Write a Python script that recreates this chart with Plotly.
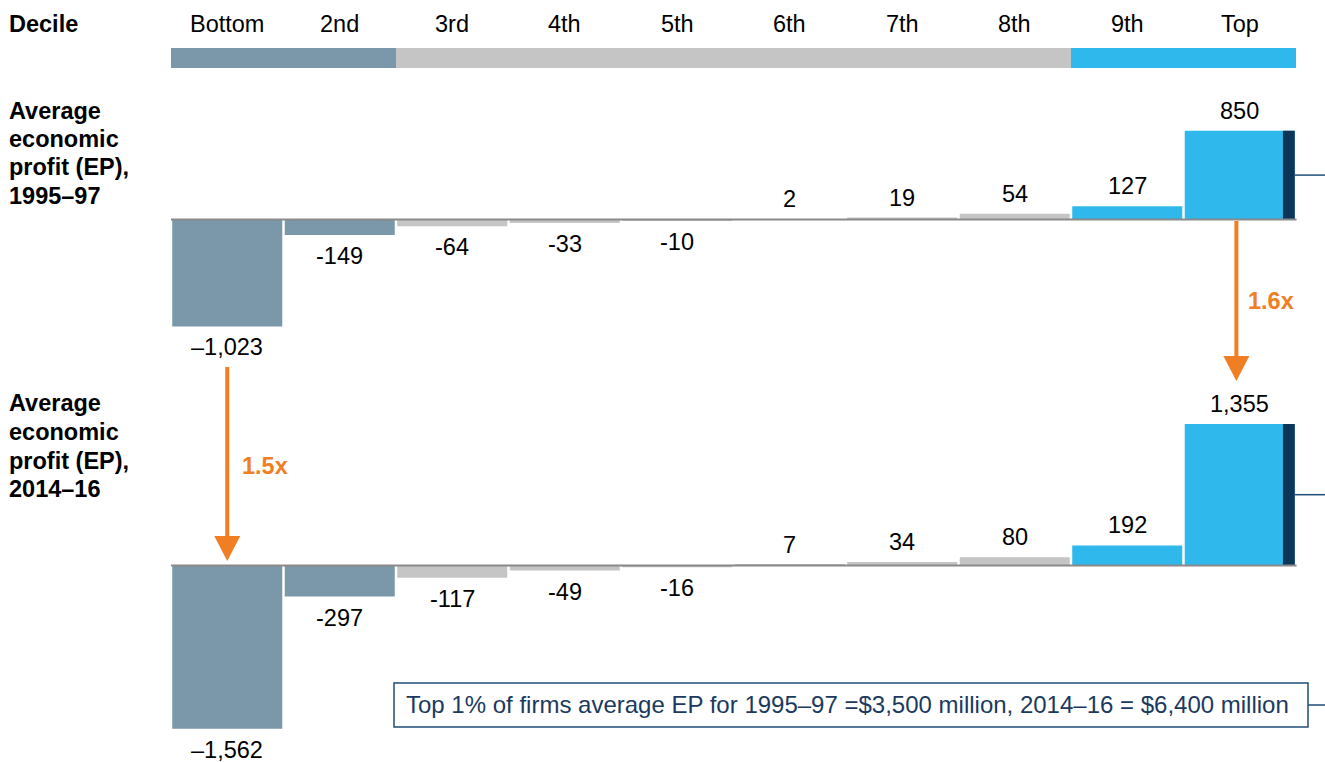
import plotly.graph_objects as go

# ---------------- data ----------------
deciles = ["Bottom", "2nd", "3rd", "4th", "5th", "6th", "7th", "8th", "9th", "Top"]
groups = ["low", "low", "mid", "mid", "mid", "mid", "mid", "mid", "high", "high"]
ep_1995 = [-1023, -149, -64, -33, -10, 2, 19, 54, 127, 850]
ep_2014 = [-1562, -297, -117, -49, -16, 7, 34, 80, 192, 1355]
lbl_1995 = ["\u20131,023", "-149", "-64", "-33", "-10", "2", "19", "54", "127", "850"]
lbl_2014 = ["\u20131,562", "-297", "-117", "-49", "-16", "7", "34", "80", "192", "1,355"]
row_1995 = ["Average", "economic", "profit (EP),", "1995\u201397"]
row_2014 = ["Average", "economic", "profit (EP),", "2014\u201316"]
ratio_top = "1.6x"
ratio_bottom = "1.5x"
note = "Top 1% of firms average EP for 1995\u201397 =$3,500 million, 2014\u201316 = $6,400 million"

# ---------------- style ----------------
W, H = 1325, 762
FONT = "Arial, Liberation Sans, sans-serif"
FS = 23.5
colors = {"low": "#7A98A9", "mid": "#C5C5C5", "high": "#2FB8EC"}
NAVY = "#0C3558"
ORANGE = "#F07F24"
ZERO = "#8A8A8A"

bar_colors = [colors[g] for g in groups]
n = len(deciles)
xs = list(range(n))

# pixel -> axis helpers
PX_PER_CAT = 112.5
X0_PX = 227.25  # centre of first category in px
x_range = [-X0_PX / PX_PER_CAT, (W - X0_PX) / PX_PER_CAT]
SCALE = 0.1045  # px per unit of EP


def yrange(zero_px):
    top = zero_px / SCALE
    return [top - H / SCALE, top]


def py(p):
    return 1 - p / H


fig = go.Figure()

BW = 0.978
fig.add_trace(go.Bar(x=xs, y=ep_1995, width=BW, marker=dict(color=bar_colors, line_width=0),
                     yaxis="y", hoverinfo="skip"))
fig.add_trace(go.Bar(x=[xs[-1]], y=[ep_1995[-1]], width=0.105, offset=BW / 2 - 0.105,
                     marker=dict(color=NAVY, line_width=0), yaxis="y", hoverinfo="skip"))
fig.add_trace(go.Bar(x=xs, y=ep_2014, width=BW, marker=dict(color=bar_colors, line_width=0),
                     yaxis="y2", hoverinfo="skip"))
fig.add_trace(go.Bar(x=[xs[-1]], y=[ep_2014[-1]], width=0.105, offset=BW / 2 - 0.105,
                     marker=dict(color=NAVY, line_width=0), yaxis="y2", hoverinfo="skip"))

shapes = []
ann = []

# header band
start = 0
for i in range(1, n + 1):
    if i == n or groups[i] != groups[start]:
        shapes.append(dict(type="rect", xref="x", yref="paper", x0=start - 0.5, x1=i - 0.5,
                           y0=py(68), y1=py(48), fillcolor=colors[groups[start]], line_width=0,
                           layer="above"))
        start = i

LEFT = 7 / W

# header text
ann.append(dict(text="<b>Decile</b>", x=LEFT, y=py(24), xref="paper", yref="paper",
                xanchor="left", yanchor="middle", showarrow=False,
                font=dict(family=FONT, size=FS, color="#000")))
for i, d in enumerate(deciles):
    ann.append(dict(text=d, x=i, y=py(24), xref="x", yref="paper", xanchor="center",
                    yanchor="middle", showarrow=False, font=dict(family=FONT, size=FS, color="#000")))

# row labels
for rows, top_px in ((row_1995, 110.5), (row_2014, 403.5)):
    for k, t in enumerate(rows):
        ann.append(dict(text="<b>%s</b>" % t, x=LEFT, y=py(top_px + 28.5 * k), xref="paper",
                        yref="paper", xanchor="left", yanchor="middle", showarrow=False,
                        font=dict(family=FONT, size=FS, color="#000")))

# zero lines, connectors, value labels
for yref, vals, lbls in (("y", ep_1995, lbl_1995), ("y2", ep_2014, lbl_2014)):
    shapes.append(dict(type="line", xref="x", yref=yref, x0=-0.5, x1=n - 0.5 + 0.005, y0=0, y1=0,
                       line=dict(color=ZERO, width=2), layer="above"))
    shapes.append(dict(type="line", xref="x", yref=yref, x0=n - 1 + BW / 2, x1=x_range[1],
                       y0=vals[-1] / 2, y1=vals[-1] / 2, line=dict(color="#1F4E79", width=1.5)))
    for i, (v, t) in enumerate(zip(vals, lbls)):
        ann.append(dict(text=t, x=i, y=v, xref="x", yref=yref, xanchor="center", yanchor="middle",
                        yshift=20 if v > 0 else -21, showarrow=False,
                        font=dict(family=FONT, size=FS, color="#000")))

# arrows


def arrow(xc, y_start, y_tip, label, lx, ly):
    head = 25
    half = 13 / PX_PER_CAT
    shapes.append(dict(type="line", xref="x", yref="paper", x0=xc, x1=xc, y0=py(y_start),
                       y1=py(y_tip - head + 1), line=dict(color=ORANGE, width=4)))
    shapes.append(dict(type="path", xref="x", yref="paper",
                       path="M %f,%f L %f,%f L %f,%f Z" % (xc - half, py(y_tip - head), xc + half,
                                                          py(y_tip - head), xc, py(y_tip)),
                       fillcolor=ORANGE, line_width=0))
    ann.append(dict(text="<b>%s</b>" % label, x=lx / W, y=py(ly), xref="paper", yref="paper",
                    xanchor="left", yanchor="middle", showarrow=False,
                    font=dict(family=FONT, size=FS, color=ORANGE)))


arrow(9 - 0.03, 221, 381, ratio_top, 1246, 301)
arrow(0, 367, 561, ratio_bottom, 240, 466)

# note box
shapes.append(dict(type="rect", xref="paper", yref="paper", x0=394 / W, x1=1308 / W,
                   y0=py(727), y1=py(683), line=dict(color="#1F4E79", width=1.5), fillcolor="white"))
shapes.append(dict(type="line", xref="paper", yref="paper", x0=1308 / W, x1=1, y0=py(705),
                   y1=py(705), line=dict(color="#1F4E79", width=1.5)))
ann.append(dict(text=note, x=847 / W, y=py(704), xref="paper", yref="paper", xanchor="center",
                yanchor="middle", showarrow=False, font=dict(family=FONT, size=24, color="#1B3A5E")))

fig.update_layout(
    width=W, height=H, margin=dict(l=0, r=0, t=0, b=0),
    paper_bgcolor="white", plot_bgcolor="white", showlegend=False, barmode="overlay",
    xaxis=dict(range=x_range, visible=False, fixedrange=True),
    yaxis=dict(range=yrange(219.5), visible=False, domain=[0, 1], fixedrange=True),
    yaxis2=dict(range=yrange(565.5), visible=False, overlaying="y", domain=[0, 1], fixedrange=True),
    shapes=shapes, annotations=ann,
)

fig.write_html("out.html", config={"displayModeBar": False},
               post_script="document.body.style.margin='0px';document.body.style.overflow='hidden';")
